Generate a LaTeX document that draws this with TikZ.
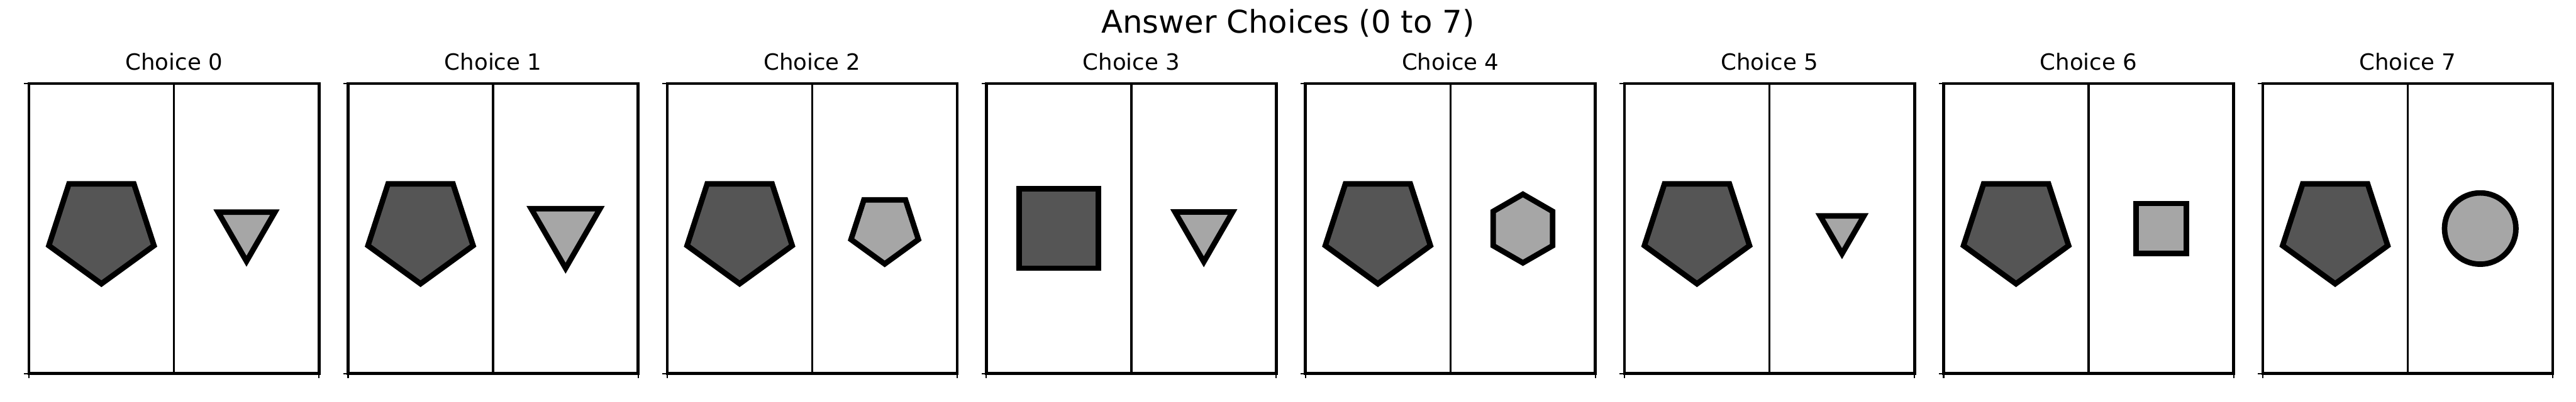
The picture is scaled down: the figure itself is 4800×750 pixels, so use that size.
\documentclass[tikz,border=0pt]{standalone}
\usepackage{fontspec}
\setmainfont{DejaVu Sans}
\definecolor{shapedark}{RGB}{85,85,85}
\definecolor{shapelight}{RGB}{166,166,166}
\tikzset{
  spine/.style={line width=1.32pt, line join=miter, draw=black},
  divider/.style={line width=0.96pt, draw=black},
  axtick/.style={line width=0.6pt, draw=black},
  shp/.style={line width=2.45pt, draw=black, line join=miter},
  darkshape/.style={shp, fill=shapedark},
  lightshape/.style={shp, fill=shapelight},
  subtitle/.style={anchor=base, inner sep=0pt, font=\fontsize{10pt}{12pt}\selectfont},
  maintitle/.style={anchor=base, inner sep=0pt, font=\fontsize{14pt}{17pt}\selectfont}
}
% shapes: #1 = x, #2 = y, #3 = size, #4 = style
\newcommand{\mypent}[4]{\draw[#4] (#1,#2) +(90:#3) -- +(18:#3) -- +(-54:#3) -- +(-126:#3) -- +(162:#3) -- cycle;}
\newcommand{\mytri}[4]{\draw[#4] (#1,#2) +(90:#3) -- +(-30:#3) -- +(210:#3) -- cycle;}
\newcommand{\myhex}[4]{\draw[#4] (#1,#2) +(-90:#3) -- +(-30:#3) -- +(30:#3) -- +(90:#3) -- +(150:#3) -- +(210:#3) -- cycle;}
\newcommand{\mysq}[4]{\draw[#4] ($(#1,#2)+(-#3,-#3)$) rectangle ($(#1,#2)+(#3,#3)$);}
\newcommand{\mycirc}[4]{\draw[#4] (#1,#2) circle[radius=#3];}
\usetikzlibrary{calc}
\begin{document}
\begin{tikzpicture}[x=0.24pt, y=-0.24pt]
\useasboundingbox (0,0) rectangle (4800,750);
\fill[white] (0,0) rectangle (4800,750);
\node[maintitle] (title) at (2400,61) {Answer Choices (0 to 7)};
\foreach \i in {0,...,7} {
  \pgfmathsetmacro{\L}{54+594.6*\i}
  \pgfmathsetmacro{\R}{\L+540.4}
  \pgfmathsetmacro{\M}{\L+270.2}
  \pgfmathsetmacro{\CL}{\L+135}
  \pgfmathsetmacro{\CR}{\L+405.3}
  \coordinate (tl\i) at (\L,156);
  \coordinate (bl\i) at (\L,696.8);
  \coordinate (br\i) at (\R,696.8);
  \draw[axtick] (tl\i) -- ++(-9,0);
  \draw[axtick] (bl\i) -- ++(-9,0);
  \draw[axtick] (bl\i) -- ++(0,9);
  \draw[axtick] (br\i) -- ++(0,9);
  \draw[divider] (\M,156) -- (\M,696.8);
  \draw[spine] (tl\i) rectangle (br\i);
  \node[subtitle] (c\i) at (\M,131) {Choice \i};
  \ifnum\i=3
    \mysq{\CL}{426.4}{74}{darkshape}
  \else
    \mypent{\CL}{426.4}{103}{darkshape}
  \fi
  \ifcase\i
    \mytri{\CR}{426.4}{61}{lightshape}
  \or
    \mytri{\CR}{426.4}{74}{lightshape}
  \or
    \mypent{\CR}{426.4}{66}{lightshape}
  \or
    \mytri{\CR}{426.4}{62}{lightshape}
  \or
    \myhex{\CR}{426.4}{64}{lightshape}
  \or
    \mytri{\CR}{426.4}{47}{lightshape}
  \or
    \mysq{\CR}{426.4}{46.8}{lightshape}
  \or
    \mycirc{\CR}{426.4}{66.5}{lightshape}
  \fi
}
\end{tikzpicture}
\end{document}
